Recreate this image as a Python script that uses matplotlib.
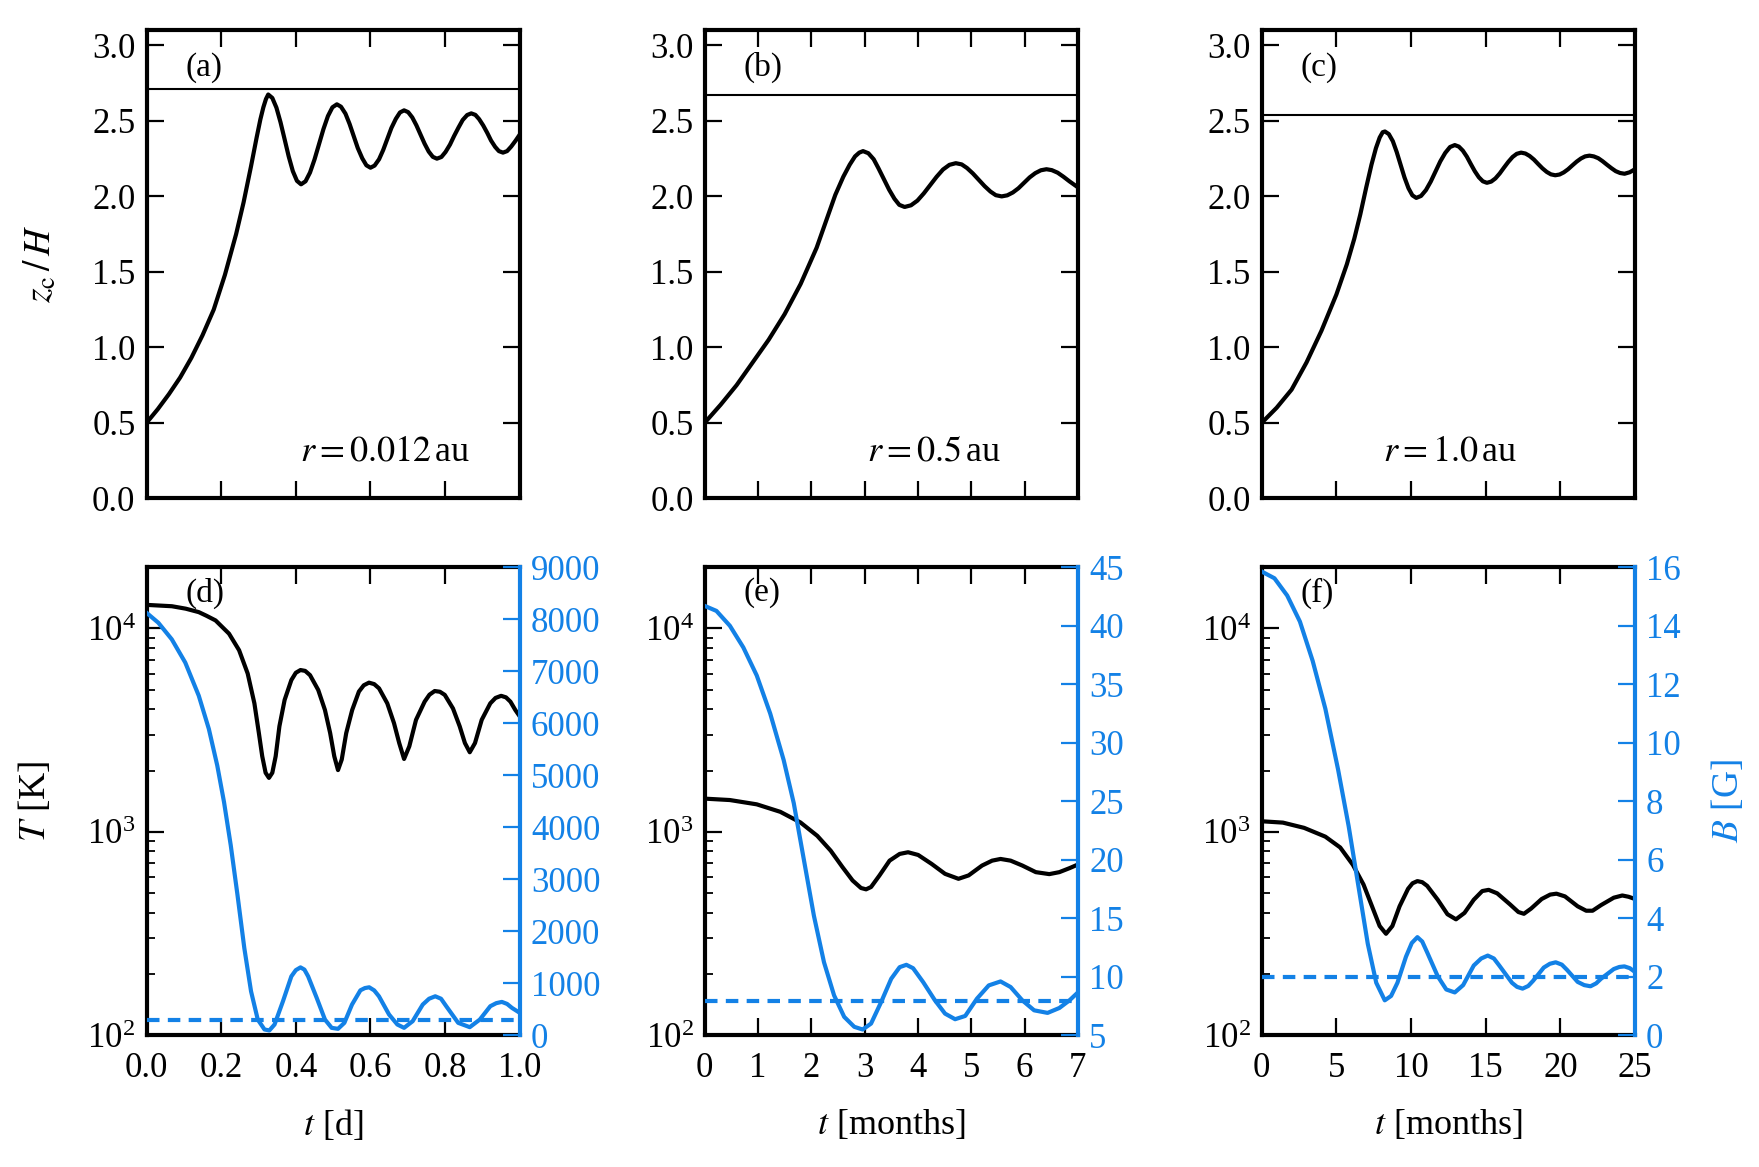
import matplotlib
matplotlib.use("Agg")
from matplotlib import pyplot as plt
from matplotlib.ticker import LogLocator, NullFormatter, MultipleLocator

plt.rcParams["font.family"] = ["Liberation Serif", "DejaVu Serif"]
plt.rcParams["mathtext.fontset"] = "stix"

BLUE = "#1381e6"

# ---- top row: z_c/H ----
t_a = [0, 0.03, 0.06, 0.09, 0.12, 0.15, 0.18, 0.21, 0.24, 0.26, 0.28, 0.295, 0.305, 0.313,
       0.32, 0.326, 0.337, 0.348, 0.359, 0.370, 0.381, 0.392, 0.403, 0.414, 0.426, 0.438,
       0.450, 0.462, 0.474, 0.486, 0.498, 0.51, 0.521, 0.533, 0.544, 0.555, 0.566, 0.578,
       0.589, 0.60, 0.611, 0.623, 0.634, 0.645, 0.656, 0.668, 0.679, 0.69, 0.701, 0.712,
       0.723, 0.734, 0.745, 0.756, 0.767, 0.778, 0.79, 0.801, 0.813, 0.824, 0.836, 0.847,
       0.859, 0.87, 0.881, 0.891, 0.902, 0.913, 0.923, 0.934, 0.944, 0.955, 0.966, 0.977,
       0.989, 1.0]
z_a = [0.50, 0.59, 0.69, 0.80, 0.93, 1.08, 1.25, 1.48, 1.75, 1.96, 2.20, 2.39, 2.51, 2.59,
       2.645, 2.675, 2.652, 2.588, 2.491, 2.378, 2.264, 2.167, 2.103, 2.08, 2.10, 2.158,
       2.244, 2.345, 2.446, 2.532, 2.59, 2.61, 2.594, 2.548, 2.48, 2.40, 2.32, 2.252,
       2.206, 2.19, 2.204, 2.246, 2.307, 2.38, 2.453, 2.514, 2.556, 2.57, 2.558, 2.523,
       2.471, 2.41, 2.349, 2.297, 2.262, 2.25, 2.261, 2.294, 2.343, 2.40, 2.457, 2.506,
       2.539, 2.55, 2.54, 2.512, 2.47, 2.42, 2.37, 2.328, 2.30, 2.29, 2.30, 2.33, 2.37, 2.41]
zmax_a = 2.71

t_b = [0, 0.3, 0.6, 0.9, 1.2, 1.5, 1.8, 2.1, 2.3, 2.45, 2.6, 2.72, 2.82, 2.9, 2.97, 3.07,
       3.17, 3.26, 3.36, 3.46, 3.56, 3.65, 3.75, 3.87, 3.99, 4.11, 4.23, 4.35, 4.47, 4.59,
       4.71, 4.82, 4.92, 5.03, 5.14, 5.25, 5.36, 5.46, 5.57, 5.675, 5.78, 5.885, 5.99, 6.095,
       6.2, 6.305, 6.41, 6.51, 6.62, 6.73, 6.84, 6.92, 7.0]
z_b = [0.50, 0.62, 0.75, 0.90, 1.05, 1.22, 1.42, 1.66, 1.86, 2.01, 2.13, 2.21, 2.265, 2.29,
       2.30, 2.286, 2.246, 2.186, 2.115, 2.044, 1.984, 1.944, 1.93, 1.941, 1.972, 2.02,
       2.075, 2.13, 2.178, 2.209, 2.22, 2.212, 2.188, 2.152, 2.11, 2.068, 2.032, 2.008, 2.00,
       2.007, 2.026, 2.054, 2.09, 2.126, 2.154, 2.173, 2.18, 2.174, 2.157, 2.13, 2.10, 2.08,
       2.06]
zmax_b = 2.67

t_c = [0, 1, 2, 3, 4, 5, 5.7, 6.2, 6.6, 7.0, 7.35, 7.65, 7.9, 8.1, 8.25, 8.51, 8.78, 9.04,
       9.30, 9.56, 9.83, 10.09, 10.35, 10.67, 11.0, 11.32, 11.64, 11.96, 12.29, 12.61, 12.93,
       13.2, 13.47, 13.74, 14.0, 14.27, 14.54, 14.81, 15.08, 15.37, 15.65, 15.94, 16.22,
       16.51, 16.8, 17.08, 17.37, 17.66, 17.94, 18.23, 18.51, 18.8, 19.09, 19.37, 19.66,
       19.95, 20.23, 20.52, 20.8, 21.09, 21.38, 21.66, 21.95, 22.24, 22.54, 22.83, 23.12,
       23.42, 23.71, 24.0, 24.3, 24.65, 25.0]
z_c = [0.50, 0.60, 0.72, 0.90, 1.11, 1.35, 1.55, 1.72, 1.88, 2.06, 2.21, 2.32, 2.39, 2.425,
       2.43, 2.413, 2.366, 2.294, 2.21, 2.126, 2.054, 2.007, 1.99, 2.003, 2.042, 2.098,
       2.165, 2.232, 2.288, 2.327, 2.34, 2.33, 2.303, 2.263, 2.215, 2.167, 2.127, 2.10, 2.09,
       2.098, 2.119, 2.152, 2.19, 2.228, 2.261, 2.282, 2.29, 2.284, 2.268, 2.244, 2.215,
       2.186, 2.162, 2.146, 2.14, 2.145, 2.159, 2.18, 2.205, 2.23, 2.251, 2.265, 2.27,
       2.265, 2.253, 2.233, 2.21, 2.187, 2.167, 2.155, 2.15, 2.16, 2.18]
zmax_c = 2.54

# ---- bottom row: T (left, log) and B (right) ----
tT_d = [0, 0.068, 0.105, 0.140, 0.16, 0.185, 0.221, 0.248, 0.271, 0.289, 0.301, 0.310, 0.319,
        0.328, 0.337, 0.346, 0.356, 0.370, 0.388, 0.40, 0.4125, 0.425, 0.438, 0.460, 0.478,
        0.492, 0.503, 0.513, 0.523, 0.535, 0.551, 0.569, 0.582, 0.596, 0.61, 0.623, 0.645,
        0.663, 0.677, 0.690, 0.704, 0.722, 0.745, 0.758, 0.772, 0.786, 0.799, 0.821, 0.839,
        0.853, 0.866, 0.880, 0.898, 0.921, 0.935, 0.950, 0.963, 0.975, 0.988, 1.0]
T_d = [13050, 12850, 12500, 12020, 11550, 10940, 9420, 7810, 6000, 4280, 3055, 2350, 1950,
       1840, 1950, 2350, 3300, 4450, 5570, 6050, 6240, 6180, 5890, 4980, 3970, 3055, 2350,
       2010, 2265, 3055, 3970, 4890, 5250, 5410, 5320, 5070, 4280, 3420, 2730, 2280, 2630,
       3550, 4360, 4720, 4920, 4880, 4710, 4040, 3300, 2730, 2460, 2730, 3550, 4280, 4550,
       4660, 4580, 4360, 3970, 3690]
tB_d = [0, 0.0316, 0.0677, 0.1038, 0.140, 0.167, 0.1895, 0.2076, 0.2256, 0.2437, 0.262,
        0.280, 0.298, 0.316, 0.329, 0.343, 0.3655, 0.388, 0.40, 0.4125, 0.423, 0.433, 0.456,
        0.478, 0.496, 0.513, 0.530, 0.5505, 0.573, 0.585, 0.5966, 0.61, 0.6227, 0.6498,
        0.672, 0.690, 0.713, 0.740, 0.757, 0.7735, 0.789, 0.803, 0.835, 0.866, 0.893, 0.921,
        0.937, 0.952, 0.966, 0.979, 1.0]
B_d = [8123, 7931, 7612, 7165, 6527, 5888, 5185, 4483, 3653, 2695, 1673, 843, 300, 109, 90,
       204, 651, 1130, 1250, 1303, 1260, 1130, 715, 300, 140, 121, 236, 588, 862, 905, 920,
       860, 747, 396, 204, 140, 268, 588, 700, 747, 700, 556, 236, 153, 300, 556, 615, 639,
       600, 524, 428]
Bref_d = 300

tT_e = [0, 0.473, 0.977, 1.419, 1.797, 2.112, 2.364, 2.585, 2.774, 2.932, 3.027, 3.121,
        3.279, 3.468, 3.657, 3.815, 4.004, 4.256, 4.508, 4.760, 4.950, 5.202, 5.391, 5.549,
        5.738, 5.958, 6.21, 6.463, 6.652, 6.841, 7.0]
T_e = [1455, 1432, 1364, 1253, 1111, 955, 807, 670, 576, 529, 521, 535, 610, 721, 778, 793,
       769, 695, 621, 587, 610, 682, 721, 735, 721, 682, 633, 619, 633, 662, 690]
tB_e = [0, 0.221, 0.473, 0.725, 0.977, 1.23, 1.482, 1.671, 1.860, 2.049, 2.238, 2.427, 2.617,
        2.806, 2.963, 3.121, 3.310, 3.499, 3.657, 3.783, 3.909, 4.098, 4.319, 4.508, 4.697,
        4.887, 5.107, 5.328, 5.549, 5.738, 5.958, 6.179, 6.431, 6.652, 6.841, 7.0]
B_e = [41.69, 41.26, 39.99, 38.14, 35.74, 32.48, 28.51, 24.83, 20.01, 15.20, 11.23, 8.40,
       6.56, 5.71, 5.48, 5.99, 7.83, 9.82, 10.81, 11.01, 10.72, 9.53, 7.97, 6.84, 6.36, 6.64,
       8.12, 9.25, 9.59, 9.11, 7.97, 7.12, 6.90, 7.32, 7.97, 8.65]
Bref_e = 7.9

tT_f = [0, 1.42, 2.84, 4.26, 5.256, 6.108, 6.818, 7.386, 7.898, 8.324, 8.75, 9.233, 9.80,
        10.1, 10.426, 10.75, 11.08, 11.79, 12.44, 13.01, 13.58, 14.20, 14.77, 15.20, 15.77,
        16.62, 17.19, 17.56, 18.04, 18.75, 19.32, 19.74, 20.31, 21.16, 21.73, 22.16, 22.73,
        23.58, 24.15, 24.57, 25.0]
T_f = [1126, 1109, 1045, 946, 837, 687, 550, 430, 344, 315, 344, 430, 524, 558, 572, 565,
       542, 463, 393, 371, 399, 463, 511, 518, 498, 440, 403, 395, 419, 467, 491, 496, 481,
       430, 409, 409, 436, 474, 486, 479, 467]
tB_f = [0, 0.852, 1.705, 2.557, 3.409, 4.261, 5.114, 5.824, 6.534, 7.102, 7.67, 8.24, 8.665,
        9.09, 9.66, 10.05, 10.426, 10.75, 11.08, 11.79, 12.36, 12.93, 13.49, 14.20, 14.7,
        15.14, 15.55, 15.91, 16.76, 17.1, 17.47, 17.85, 18.18, 18.89, 19.3, 19.69, 20.1,
        20.45, 21.16, 21.6, 22.02, 22.4, 22.73, 23.58, 23.95, 24.29, 24.65, 25.0]
B_f = [15.85, 15.62, 15.03, 14.14, 12.80, 11.16, 9.08, 7.14, 4.91, 3.125, 1.79, 1.19, 1.34,
       1.79, 2.68, 3.15, 3.35, 3.20, 2.83, 2.01, 1.56, 1.46, 1.71, 2.38, 2.62, 2.72, 2.62,
       2.38, 1.79, 1.65, 1.59, 1.68, 1.86, 2.31, 2.44, 2.49, 2.41, 2.23, 1.82, 1.71, 1.67,
       1.77, 1.93, 2.26, 2.33, 2.35, 2.29, 2.16]
Bref_f = 2.0

top_data = [(t_a, z_a, zmax_a), (t_b, z_b, zmax_b), (t_c, z_c, zmax_c)]
bot_data = [(tT_d, T_d, tB_d, B_d, Bref_d), (tT_e, T_e, tB_e, B_e, Bref_e),
            (tT_f, T_f, tB_f, B_f, Bref_f)]
xlims = [(0, 1), (0, 7), (0, 25)]
xsteps = [0.2, 1, 5]
blims = [(0, 9000), (5, 45), (0, 16)]
bsteps = [1000, 5, 2]
top_tags = ["(a)", "(b)", "(c)"]
bot_tags = ["(d)", "(e)", "(f)"]
r_text = [r"$r = 0.012\,$au", r"$r = 0.5\,$au", r"$r = 1.0\,$au"]
r_pos = [(0.41, 0.08), (0.435, 0.08), (0.325, 0.08)]
xlabels = [r"$t$ [d]", r"$t$ [months]", r"$t$ [months]"]

FS = 25
lefts = [0.0833, 0.4006, 0.7173]
W, H = 0.2122, 0.401

fig = plt.figure(figsize=(17.59, 11.67), dpi=100)


def style(ax):
    ax.tick_params(which="major", direction="in", length=12, width=1.6, labelsize=FS, pad=8)
    ax.tick_params(which="minor", direction="in", length=6, width=1.3)
    ax.tick_params(axis="x", pad=12)
    for s in ax.spines.values():
        s.set_linewidth(3)


for i in range(3):
    t, z, zmax = top_data[i]
    ax = fig.add_axes([lefts[i], 0.573, W, H])
    ax.plot(t, z, color="black", lw=3)
    ax.axhline(zmax, color="black", lw=1.5)
    ax.set_xlim(*xlims[i])
    ax.set_ylim(0, 3.1)
    ax.xaxis.set_major_locator(MultipleLocator(xsteps[i]))
    ax.yaxis.set_major_locator(MultipleLocator(0.5))
    ax.yaxis.set_major_formatter(plt.FormatStrFormatter("%.1f"))
    ax.tick_params(top=True, right=True, labelbottom=False)
    style(ax)
    ax.text(0.105, 0.92, top_tags[i], transform=ax.transAxes, fontsize=24, va="center")
    ax.text(r_pos[i][0], r_pos[i][1], r_text[i], transform=ax.transAxes, fontsize=26)
    if i == 0:
        ax.set_ylabel(r"$z_\mathrm{c}\,/\,H$", fontsize=27)
        ax.yaxis.set_label_coords(-0.235, 0.5)

    tT, T, tB, B, Bref = bot_data[i]
    axb = fig.add_axes([lefts[i], 0.113, W, H])
    axb.set_yscale("log")
    axb.plot(tT, T, color="black", lw=3, zorder=3)
    axb.set_xlim(*xlims[i])
    axb.set_ylim(1e2, 2e4)
    axb.xaxis.set_major_locator(MultipleLocator(xsteps[i]))
    axb.yaxis.set_major_locator(LogLocator(base=10, numticks=10))
    axb.yaxis.set_minor_locator(LogLocator(base=10, subs=range(2, 10), numticks=10))
    axb.yaxis.set_minor_formatter(NullFormatter())
    if i == 0:
        axb.xaxis.set_major_formatter(plt.FormatStrFormatter("%.1f"))
    axb.tick_params(top=True, right=False)
    style(axb)
    axb.spines["right"].set_visible(False)
    axb.set_xlabel(xlabels[i], fontsize=26)
    axb.xaxis.set_label_coords(0.5, -0.155)
    axb.text(0.105, 0.945, bot_tags[i], transform=axb.transAxes, fontsize=24, va="center")
    if i == 0:
        axb.set_ylabel(r"$T$ [K]", fontsize=27)
        axb.yaxis.set_label_coords(-0.25, 0.5)

    ax2 = axb.twinx()
    ax2.plot(tB, B, color=BLUE, lw=3)
    ax2.axhline(Bref, color=BLUE, lw=3, ls=(0, (3, 2)))
    ax2.set_ylim(*blims[i])
    ax2.yaxis.set_major_locator(MultipleLocator(bsteps[i]))
    ax2.tick_params(which="major", direction="in", length=12, width=1.6, labelsize=FS,
                    pad=8, colors=BLUE)
    for name, s in ax2.spines.items():
        s.set_visible(name == "right")
    ax2.spines["right"].set_color(BLUE)
    ax2.spines["right"].set_linewidth(3)
    if i == 2:
        ax2.set_ylabel(r"$B$ [G]", fontsize=27, color=BLUE)
        ax2.yaxis.set_label_coords(1.2, 0.5)

fig.savefig("out.png", dpi=100)
